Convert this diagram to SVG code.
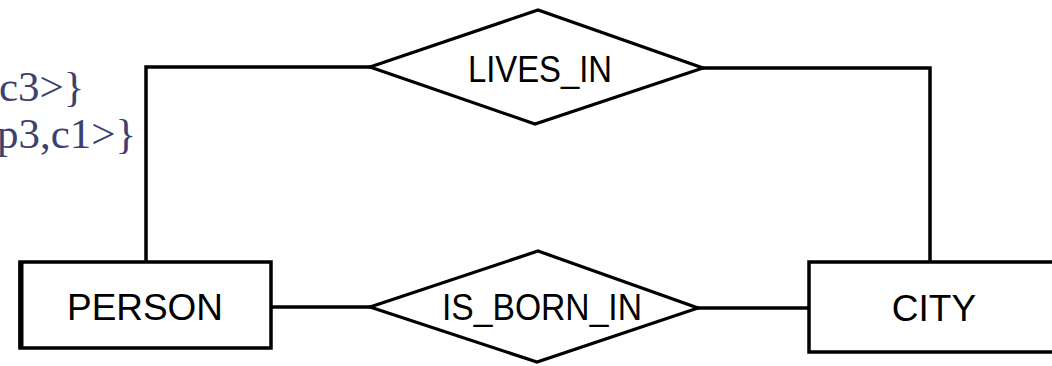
<svg xmlns="http://www.w3.org/2000/svg" width="1052" height="366" viewBox="0 0 1052 366">
<style>
.ln{fill:none;stroke:#000;stroke-width:3.5;stroke-linejoin:miter}
.ent{fill:#fff;stroke:#000;stroke-width:3.5}
.rel{fill:#fff;stroke:#000;stroke-width:3.2;stroke-linejoin:miter}
.lbl{font-family:"Liberation Sans",Arial,sans-serif;font-size:37px;fill:#000;text-anchor:middle}
.set{font-family:"Liberation Serif","Times New Roman",serif;font-size:43px;fill:#3d4170}
</style>
<rect width="1052" height="366" fill="#fff"/>
<g id="settext">
<text class="set" x="-1" y="101">c3&gt;}</text>
<text class="set" x="-3" y="148">p3,c1&gt;}</text>
</g>
<g id="connectors">
<polyline class="ln" points="146,262 146,67 372,67"/>
<polyline class="ln" points="701,68 930,68 930,262"/>
<line class="ln" x1="272" y1="307" x2="372" y2="307"/>
<line class="ln" x1="696" y1="308" x2="808" y2="308"/>
</g>
<g id="lives_in">
<polygon class="rel" points="370,67 538,10 703,68 535,124"/>
<text class="lbl" x="540" y="82" textLength="144" lengthAdjust="spacingAndGlyphs">LIVES_IN</text>
</g>
<g id="is_born_in">
<polygon class="rel" points="370,307 538,251 698,308 537,362"/>
<text class="lbl" x="542" y="320" textLength="200" lengthAdjust="spacingAndGlyphs">IS_BORN_IN</text>
</g>
<g id="person">
<rect class="ent" x="20" y="262" width="251" height="86"/>
<line x1="21" y1="262" x2="21" y2="348" stroke="#000" stroke-width="5"/>
<text class="lbl" x="145" y="320" textLength="156" lengthAdjust="spacingAndGlyphs">PERSON</text>
</g>
<g id="city">
<rect class="ent" x="809" y="262" width="260" height="90"/>
<text class="lbl" x="934" y="321">CITY</text>
</g>
</svg>
